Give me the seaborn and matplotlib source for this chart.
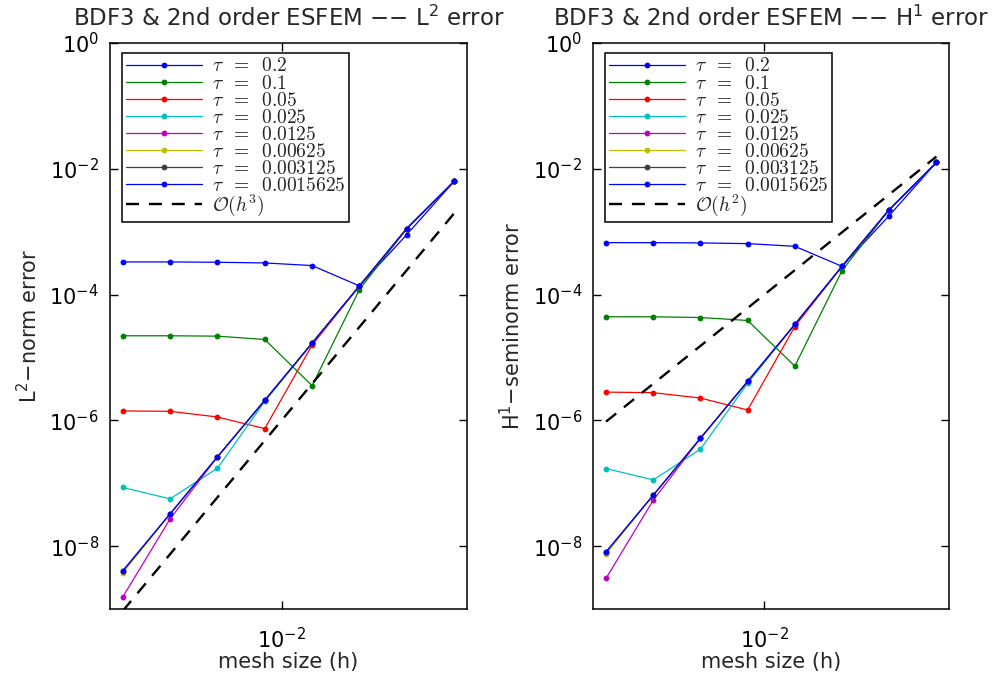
import numpy as np
import pandas as pd
import matplotlib
matplotlib.use("Agg")
import matplotlib.pyplot as plt
import matplotlib.ticker as mticker
import seaborn as sns

# ---------------- data ----------------
h = [0.0009765625, 0.001953125, 0.00390625, 0.0078125,
     0.015625, 0.03125, 0.0625, 0.125]

tau_labels = ["0.2", "0.1", "0.05", "0.025", "0.0125",
              "0.00625", "0.003125", "0.0015625"]

l2_tau_0_2 = [3.30e-4, 3.30e-4, 3.26e-4, 3.18e-4, 2.89e-4, 1.37e-4, 8.96e-4, 6.29e-3]
l2_tau_0_1 = [2.21e-5, 2.21e-5, 2.18e-5, 1.93e-5, 3.56e-6, 1.20e-4, 1.12e-3, 6.29e-3]
l2_tau_0_05 = [1.41e-6, 1.39e-6, 1.13e-6, 7.38e-7, 1.57e-5, 1.37e-4, 1.12e-3, 6.29e-3]
l2_tau_0_025 = [8.55e-8, 5.64e-8, 1.73e-7, 2.00e-6, 1.69e-5, 1.37e-4, 1.12e-3, 6.29e-3]
l2_tau_0_0125 = [1.55e-9, 2.71e-8, 2.62e-7, 2.08e-6, 1.69e-5, 1.37e-4, 1.12e-3, 6.29e-3]
l2_tau_0_00625 = [3.73e-9, 3.26e-8, 2.62e-7, 2.08e-6, 1.69e-5, 1.37e-4, 1.12e-3, 6.29e-3]
l2_tau_0_003125 = [4.00e-9, 3.26e-8, 2.62e-7, 2.08e-6, 1.69e-5, 1.37e-4, 1.12e-3, 6.29e-3]
l2_tau_0_0015625 = [4.06e-9, 3.26e-8, 2.62e-7, 2.08e-6, 1.69e-5, 1.37e-4, 1.12e-3, 6.29e-3]

h1_tau_0_2 = [6.69e-4, 6.69e-4, 6.62e-4, 6.45e-4, 5.85e-4, 2.81e-4, 1.80e-3, 1.26e-2]
h1_tau_0_1 = [4.43e-5, 4.43e-5, 4.31e-5, 3.87e-5, 7.28e-6, 2.40e-4, 2.24e-3, 1.26e-2]
h1_tau_0_05 = [2.81e-6, 2.75e-6, 2.26e-6, 1.46e-6, 3.10e-5, 2.81e-4, 2.24e-3, 1.26e-2]
h1_tau_0_025 = [1.71e-7, 1.13e-7, 3.47e-7, 3.87e-6, 3.34e-5, 2.81e-4, 2.24e-3, 1.26e-2]
h1_tau_0_0125 = [3.07e-9, 5.37e-8, 5.18e-7, 4.16e-6, 3.34e-5, 2.81e-4, 2.24e-3, 1.26e-2]
h1_tau_0_00625 = [7.46e-9, 6.45e-8, 5.18e-7, 4.16e-6, 3.34e-5, 2.81e-4, 2.24e-3, 1.26e-2]
h1_tau_0_003125 = [8.05e-9, 6.45e-8, 5.18e-7, 4.16e-6, 3.34e-5, 2.81e-4, 2.24e-3, 1.26e-2]
h1_tau_0_0015625 = [8.12e-9, 6.45e-8, 5.18e-7, 4.16e-6, 3.34e-5, 2.81e-4, 2.24e-3, 1.26e-2]

l2_series = [l2_tau_0_2, l2_tau_0_1, l2_tau_0_05, l2_tau_0_025, l2_tau_0_0125,
             l2_tau_0_00625, l2_tau_0_003125, l2_tau_0_0015625]
h1_series = [h1_tau_0_2, h1_tau_0_1, h1_tau_0_05, h1_tau_0_025, h1_tau_0_0125,
             h1_tau_0_00625, h1_tau_0_003125, h1_tau_0_0015625]

ytick_values = [1e-8, 1e-6, 1e-4, 1e-2, 1e0]
xtick_values = [1e-2]

colors = [(0, 0, 1), (0, 0.5, 0), (1, 0, 0), (0, 0.75, 0.75),
          (0.75, 0, 0.75), (0.75, 0.75, 0), (0.25, 0.25, 0.25), (0, 0, 1)]

# ---------------- style ----------------
sns.set_style("ticks")
plt.rcParams["font.family"] = ["DejaVu Sans"]
plt.rcParams["mathtext.fontset"] = "cm"
plt.rcParams["xtick.direction"] = "in"
plt.rcParams["ytick.direction"] = "in"

fig = plt.figure(figsize=(10, 6.79), dpi=100)
ax_l = fig.add_axes([0.110, 0.1031, 0.357, 0.8336])
ax_r = fig.add_axes([0.5933, 0.1031, 0.356, 0.8336])

h_arr = np.array(h)
FS = 15


def fmt(v, pos):
    e = int(round(np.log10(v)))
    return r"$\mathregular{10^{%d}}$" % e


def draw(ax, series, order, title, ylabel):
    for vals, lab, col in zip(series, tau_labels, colors):
        df = pd.DataFrame({"h": h, "err": vals})
        sns.lineplot(data=df, x="h", y="err", ax=ax, color=col, linewidth=0.9,
                     marker="o", markersize=4.2, markeredgewidth=0,
                     label=r"$\tau\;\;=\;\;%s$" % lab, sort=False)
    ref = pd.DataFrame({"h": h, "ref": h_arr ** order})
    sns.lineplot(data=ref, x="h", y="ref", ax=ax, color="k", linewidth=1.7,
                 dashes=False, linestyle=(0, (5.5, 4.2)),
                 label=r"$\mathcal{O}(h^{%d})$" % order)
    ax.set_xscale("log")
    ax.set_yscale("log")
    ax.set_xlim(8.1e-4, 0.151)
    ax.set_ylim(1e-9, 1.0)
    ax.set_xticks(xtick_values)
    ax.set_yticks(ytick_values)
    ax.xaxis.set_major_formatter(mticker.FuncFormatter(fmt))
    ax.yaxis.set_major_formatter(mticker.FuncFormatter(fmt))
    ax.xaxis.set_minor_locator(mticker.NullLocator())
    ax.yaxis.set_minor_locator(mticker.NullLocator())
    ax.tick_params(axis="both", which="major", labelsize=FS, length=6,
                   width=1, top=True, right=True, direction="in", pad=8,
                   colors="k")
    ax.tick_params(axis="x", pad=13)
    for s in ax.spines.values():
        s.set_visible(True)
        s.set_linewidth(1.1)
        s.set_color("k")
    ax.set_xlabel("mesh size (h)", fontsize=FS, labelpad=0)
    ax.set_ylabel(ylabel, fontsize=FS, labelpad=6)
    ax.set_title(title, fontsize=16.5, pad=12)
    leg = ax.legend(loc="upper left", bbox_to_anchor=(0.034, 0.983),
                    fontsize=14, frameon=True, fancybox=False,
                    edgecolor="k", framealpha=1, handlelength=3.9,
                    labelspacing=-0.1, borderpad=0.2, handletextpad=0.5,
                    borderaxespad=0)
    leg.get_frame().set_linewidth(1.1)


draw(ax_l, l2_series, 3,
     r"BDF3 & 2nd order ESFEM −− L$\mathregular{^2}$ error",
     r"L$\mathregular{^2}$−norm error")
draw(ax_r, h1_series, 2,
     r"BDF3 & 2nd order ESFEM −− H$\mathregular{^1}$ error",
     r"H$\mathregular{^1}$−seminorm error")

fig.savefig("out.png", dpi=100)
